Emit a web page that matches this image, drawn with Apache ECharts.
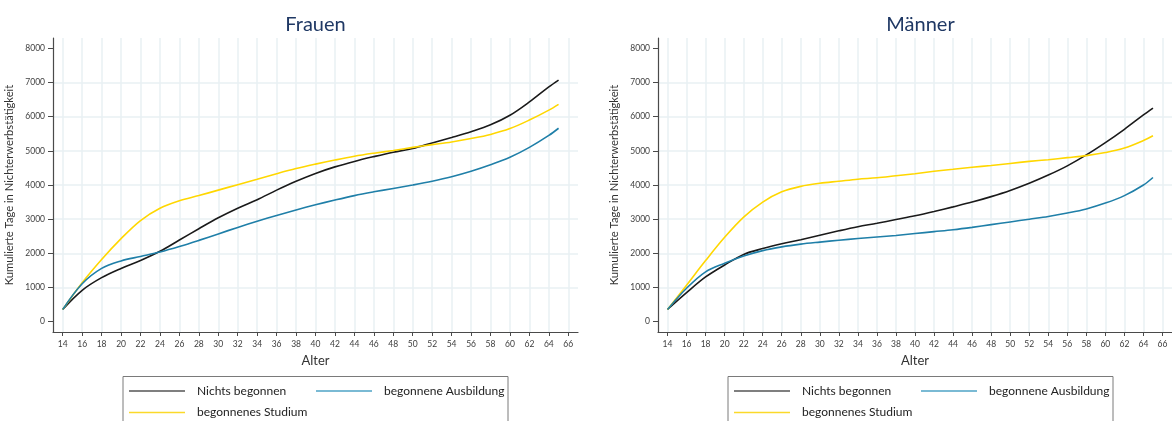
<!DOCTYPE html>
<html>
<head>
<meta charset="utf-8">
<script src="https://cdn.jsdelivr.net/npm/echarts@6/dist/echarts.min.js"></script>
<style>
  html, body { margin: 0; padding: 0; background: #fff; }
  #chart { width: 1172px; height: 421px; }
</style>
</head>
<body>
<div id="chart"></div>
<script>
// Alter (Jahre)
const ages = [14, 16, 18, 20, 22, 24, 26, 28, 30, 32, 34, 36, 38, 40, 42, 44, 46, 48, 50, 52, 54, 56, 58, 60, 62, 64, 65];

// Frauen: kumulierte Tage in Nichterwerbstätigkeit
const frauenNichts = [360, 920, 1290, 1560, 1790, 2060, 2390, 2720, 3040, 3320, 3570, 3850, 4110, 4340, 4530, 4690, 4830, 4960, 5070, 5230, 5390, 5560, 5760, 6040, 6430, 6870, 7070];
const frauenAusbildung = [360, 1110, 1560, 1780, 1910, 2040, 2200, 2380, 2570, 2760, 2940, 3110, 3270, 3420, 3560, 3690, 3800, 3900, 4000, 4110, 4240, 4400, 4590, 4810, 5100, 5450, 5660];
const frauenStudium = [360, 1140, 1820, 2430, 2960, 3320, 3540, 3690, 3850, 4010, 4170, 4330, 4480, 4610, 4730, 4840, 4930, 5010, 5100, 5180, 5260, 5360, 5480, 5650, 5900, 6190, 6360];

// Männer: kumulierte Tage in Nichterwerbstätigkeit
const maennerNichts = [360, 850, 1310, 1660, 1970, 2140, 2280, 2400, 2530, 2660, 2780, 2880, 2990, 3100, 3225, 3360, 3500, 3660, 3840, 4050, 4290, 4560, 4880, 5240, 5630, 6050, 6250];
const maennerAusbildung = [360, 980, 1460, 1710, 1920, 2080, 2190, 2270, 2330, 2385, 2435, 2480, 2525, 2580, 2635, 2690, 2760, 2840, 2920, 3000, 3080, 3180, 3300, 3470, 3690, 4000, 4220];
const maennerStudium = [360, 1070, 1790, 2470, 3060, 3500, 3800, 3960, 4050, 4110, 4170, 4210, 4270, 4330, 4400, 4460, 4520, 4570, 4630, 4690, 4740, 4800, 4860, 4950, 5080, 5300, 5440];

// Achsenbeschriftungen
const xTicks = [14, 16, 18, 20, 22, 24, 26, 28, 30, 32, 34, 36, 38, 40, 42, 44, 46, 48, 50, 52, 54, 56, 58, 60, 62, 64, 66];
const yTicks = [0, 1000, 2000, 3000, 4000, 5000, 6000, 7000, 8000];

const panelTitles = ['Frauen', 'Männer'];
const seriesNames = ['Nichts begonnen', 'begonnene Ausbildung', 'begonnenes Studium'];
const xName = 'Alter';
const yName = 'Kumulierte Tage in Nichterwerbstätigkeit';

const FONT = 'Lato';
const colors = ['#1a1a1a', '#1f7fa8', '#ffd700'];
const legendColors = ['#555555', '#4ea3c6', '#fbd92a'];
const gridColor = '#e9f1f3';
const axisColor = '#4a4a4a';

const pair = (vals) => ages.map((a, i) => [a, vals[i]]);

const panels = [
  { left: 53, right: 594, data: [frauenNichts, frauenAusbildung, frauenStudium], legendLeft: 123, titleX: 315.5 },
  { left: 658, right: -11, data: [maennerNichts, maennerAusbildung, maennerStudium], legendLeft: 728, titleX: 920.5 }
];

const option = {
  animation: false,
  backgroundColor: '#ffffff',
  title: panels.map((p, i) => ({
    text: panelTitles[i],
    left: p.titleX,
    top: 15,
    textAlign: 'center',
    padding: 0,
    textStyle: { fontFamily: FONT, fontSize: 20, fontWeight: 'normal', color: '#1f3864' }
  })),
  grid: panels.map(p => ({ left: p.left, right: p.right, top: 38, bottom: 89, containLabel: false })),
  xAxis: panels.map((p, i) => ({
    type: 'value',
    gridIndex: i,
    min: 13,
    max: 67,
    name: xName,
    nameLocation: 'middle',
    nameGap: 18,
    nameTextStyle: { fontFamily: FONT, fontSize: 13, color: '#333' },
    axisLine: { onZero: false, lineStyle: { color: axisColor, width: 1.2 } },
    axisTick: { show: true, length: 4, customValues: xTicks, lineStyle: { color: axisColor } },
    axisLabel: { customValues: xTicks, fontFamily: FONT, fontSize: 8.5, color: '#404040', margin: 8 },
    splitLine: { show: true, lineStyle: { color: gridColor, width: 1.5 } }
  })),
  yAxis: panels.map((p, i) => ({
    type: 'value',
    gridIndex: i,
    min: -300,
    max: 8300,
    name: yName,
    nameLocation: 'middle',
    nameGap: 38,
    nameTextStyle: { fontFamily: FONT, fontSize: 11.2, color: '#333' },
    axisLine: { show: true, lineStyle: { color: axisColor, width: 1.2 } },
    axisTick: { show: true, length: 5, customValues: yTicks, lineStyle: { color: axisColor } },
    axisLabel: {
      customValues: yTicks,
      formatter: (v) => String(v),
      fontFamily: FONT, fontSize: 8.5, color: '#404040', margin: 8
    },
    splitLine: { show: true, showMinLine: false, showMaxLine: false, lineStyle: { color: gridColor, width: 1.5 } }
  })),
  legend: [],
  graphic: panels.map(p => ({
    type: 'rect',
    shape: { x: p.legendLeft, y: 376.5, width: 385, height: 80 },
    style: { fill: 'none', stroke: '#7a7a7a', lineWidth: 1 },
    silent: true
  })),
  series: []
};

panels.forEach((p, pi) => {
  p.data.forEach((vals, si) => {
    option.series.push({
      name: seriesNames[si],
      type: 'line',
      xAxisIndex: pi,
      yAxisIndex: pi,
      data: pair(vals),
      smooth: 0.35,
      showSymbol: false,
      lineStyle: { color: colors[si], width: 1.6 },
      itemStyle: { color: colors[si] },
      z: si === 1 ? 3 : 2
    });
  });
  // legend entries: two in the first row, one in the second
  const slots = [
    { left: p.legendLeft + 6, center: 391 },
    { left: p.legendLeft + 193, center: 391 },
    { left: p.legendLeft + 6, center: 412.5 }
  ];
  slots.forEach((s, si) => {
    option.legend.push({
      data: [{ name: seriesNames[si], itemStyle: { color: legendColors[si] } }],
      left: s.left,
      top: s.center - 7,
      padding: 0,
      icon: 'rect',
      itemWidth: 56,
      itemHeight: 1.5,
      selectedMode: false,
      textStyle: { fontFamily: FONT, fontSize: 12, color: '#222', lineHeight: 14, padding: [0, 0, 0, 7] }
    });
  });
});

const chart = echarts.init(document.getElementById('chart'), null, { renderer: 'canvas' });
chart.setOption(option);
</script>
</body>
</html>
